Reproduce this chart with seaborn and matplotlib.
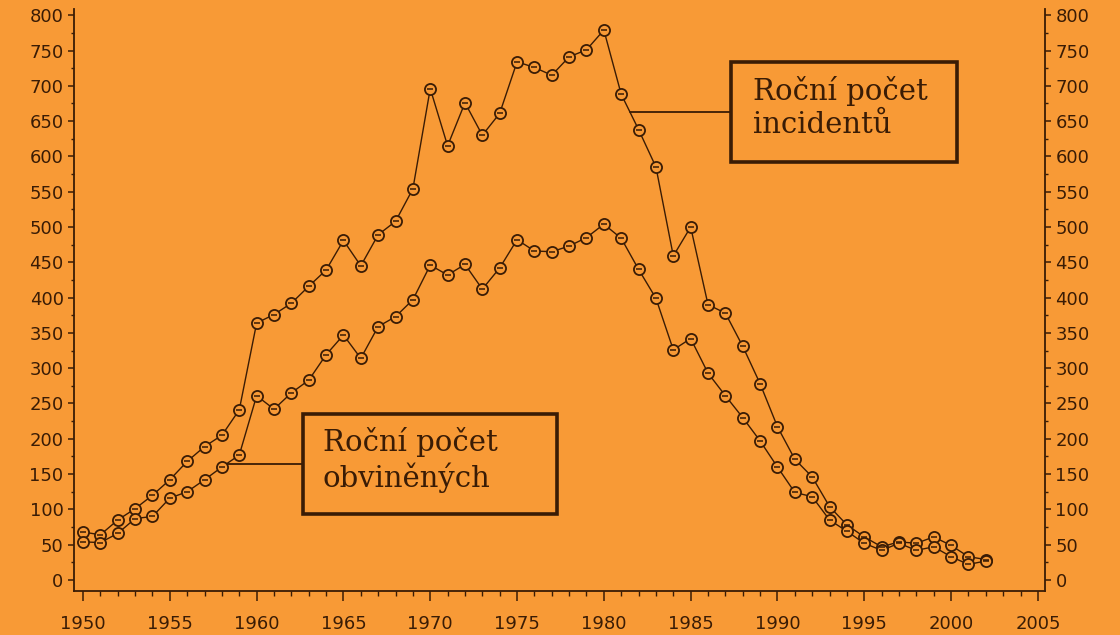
import numpy as np
import pandas as pd
import matplotlib
matplotlib.use("Agg")
import matplotlib.pyplot as plt
from matplotlib.patches import Rectangle
from matplotlib.ticker import MultipleLocator
import seaborn as sns

# Yearly counts, 1950-2002
years = list(range(1950, 2003))
incidents = [68, 64, 85, 101, 120, 142, 168, 189, 205, 241,
             364, 376, 392, 416, 439, 481, 445, 489, 508, 554,
             696, 615, 676, 630, 661, 734, 726, 715, 741, 751,
             779, 688, 638, 585, 459, 500, 390, 378, 331, 278,
             217, 171, 146, 104, 78, 61, 47, 54, 52, 61,
             49, 33, 29]
accused = [54, 53, 66, 87, 90, 116, 125, 142, 160, 177,
           261, 242, 265, 283, 319, 347, 314, 359, 373, 397,
           446, 432, 447, 412, 442, 482, 466, 465, 473, 485,
           504, 484, 440, 399, 326, 342, 293, 261, 230, 197,
           160, 124, 118, 85, 69, 52, 42, 52, 42, 47,
           33, 22, 27]

label_incidents = "Roční počet\nincidentů"
label_accused = "Roční počet\nobviněných"

BG = "#F89A36"
INK = "#3A1C05"

sns.set_theme(style="ticks")
plt.rcParams["font.family"] = ["DejaVu Sans"]

df = pd.DataFrame({
    "year": years * 2,
    "count": incidents + accused,
    "series": ["incidents"] * len(years) + ["accused"] * len(years),
})

fig = plt.figure(figsize=(11.2, 6.35), dpi=100, facecolor=BG)
ax = fig.add_axes([74 / 1120, 44 / 635, 971 / 1120, 582 / 635])
ax.set_facecolor(BG)

for name in ["incidents", "accused"]:
    sub = df[df["series"] == name]
    sns.lineplot(data=sub, x="year", y="count",
                 ax=ax, color=INK, lw=1.0, marker="o", markersize=8,
                 markerfacecolor=BG, markeredgecolor=INK,
                 markeredgewidth=1.3, legend=False, zorder=3)
    ax.plot(sub["year"], sub["count"], ls="none", marker="_",
            markersize=4, color=INK, mew=1.1, zorder=4)

ax.set_xlim(1949.48, 2005.41)
ax.set_ylim(-15.6, 808.8)
ax.set_xlabel("")
ax.set_ylabel("")

ax.xaxis.set_major_locator(MultipleLocator(5))
ax.xaxis.set_minor_locator(MultipleLocator(1))
ax.yaxis.set_major_locator(MultipleLocator(50))
ax.yaxis.set_minor_locator(MultipleLocator(25))

for side in ["left", "right", "bottom"]:
    ax.spines[side].set_color(INK)
    ax.spines[side].set_linewidth(1.3)
ax.spines["top"].set_visible(False)

ax.tick_params(axis="x", which="major", length=7, width=1.1, color=INK,
               pad=10, labelsize=13, labelcolor=INK, direction="out")
ax.tick_params(axis="x", which="minor", length=3.5, width=1.0, color=INK,
               direction="out")
ax.tick_params(axis="y", which="major", length=4, width=1.1, color=INK,
               pad=3.5, labelsize=13, labelcolor=INK, direction="out",
               left=True, right=True, labelleft=True, labelright=True)
ax.tick_params(axis="y", which="minor", length=2.2, width=1.0, color=INK,
               direction="out", left=True, right=True)


def callout(text, anchor_year, values, x0, x1, height, text_x):
    """Boxed label joined by a horizontal leader to a point on the line."""
    y_anchor = float(np.interp(anchor_year, years, values))
    ax.plot([anchor_year, x0], [y_anchor, y_anchor], color=INK, lw=1.3,
            clip_on=False, zorder=2)
    ax.add_patch(Rectangle((x0, y_anchor - height / 2), x1 - x0, height,
                           fill=False, edgecolor=INK, lw=2.6,
                           clip_on=False, zorder=5))
    ax.text(text_x, y_anchor + 6, text, ha="left", va="center",
            family="DejaVu Serif", fontsize=21, color=INK,
            linespacing=1.2, zorder=6)


callout(label_incidents, 1981.5, incidents, 1987.33, 2000.35, 141.7, 1988.6)
callout(label_accused, 1958.24, accused, 1962.67, 1977.30, 141.6, 1963.8)

fig.savefig("out.png", dpi=100, facecolor=BG)
